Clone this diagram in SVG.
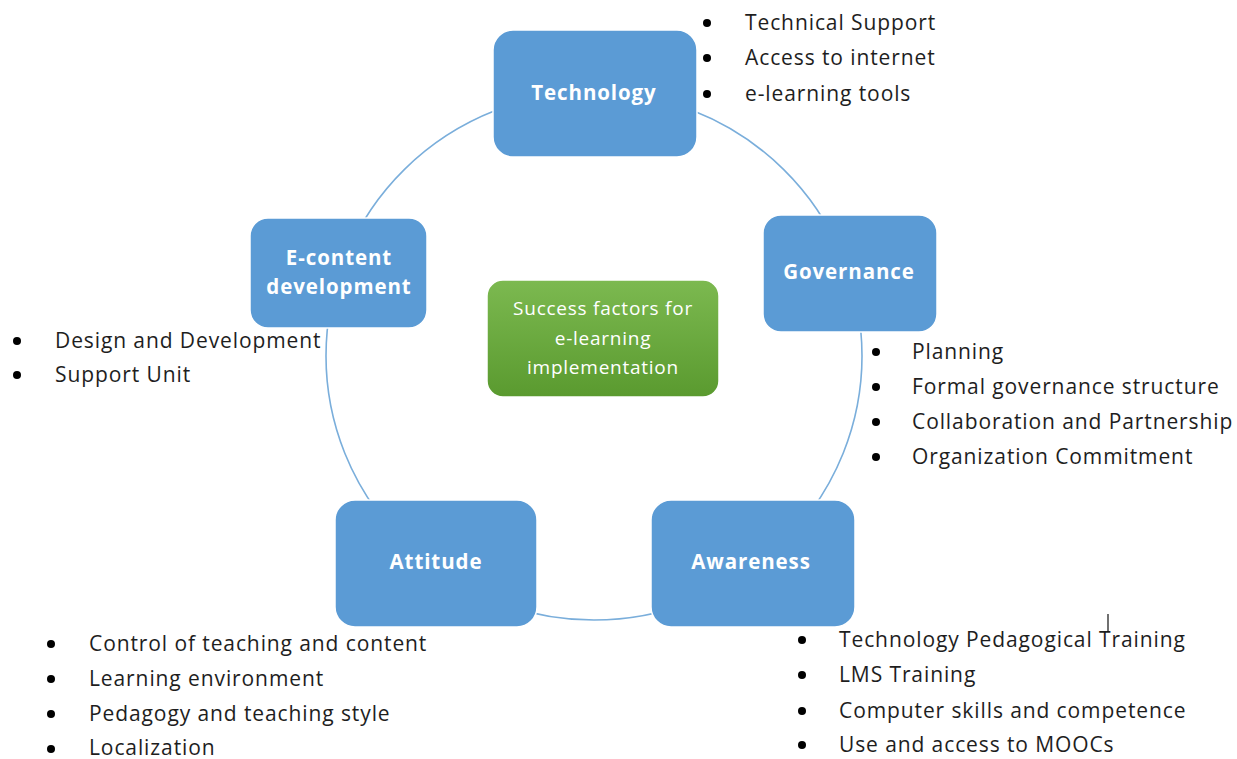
<svg xmlns="http://www.w3.org/2000/svg" width="1237" height="759" viewBox="0 0 1237 759">
  <defs>
    <linearGradient id="greenFill" x1="0" y1="0" x2="0" y2="1">
      <stop offset="0" stop-color="#7cb950"/>
      <stop offset="1" stop-color="#5a9a2f"/>
    </linearGradient>
  </defs>
  <style>
    .node { fill: #5b9bd5; stroke: #ffffff; stroke-width: 1.5; }
    .label { font-family: "Open Sans", "Liberation Sans", sans-serif; font-weight: bold; font-size: 20.5px; letter-spacing: 0.9px; fill: #ffffff; text-anchor: middle; }
    .center-label { font-family: "Open Sans", "Liberation Sans", sans-serif; font-size: 19px; letter-spacing: 0.75px; fill: #ffffff; text-anchor: middle; }
    .item { font-family: "Open Sans", "Liberation Sans", sans-serif; font-size: 21px; letter-spacing: 0.9px; fill: #1e1e1e; }
    .dot { fill: #000000; }
    .ring { fill: none; stroke: #7aaedb; stroke-width: 1.6; }
  </style>

  <rect width="1237" height="759" fill="#ffffff"/>

  <!-- cycle ring linking the five factors -->
  <g id="connectors">
    <ellipse class="ring" cx="594" cy="356" rx="268" ry="264"/>
  </g>

  <!-- central hub -->
  <g id="node-center">
    <rect x="487" y="280" width="232" height="117" rx="16" fill="url(#greenFill)" stroke="#ffffff" stroke-width="1.5"/>
    <text class="center-label" x="603" y="315">Success factors for</text>
    <text class="center-label" x="603" y="345">e-learning</text>
    <text class="center-label" x="603" y="374">implementation</text>
  </g>

  <g id="node-technology">
    <rect class="node" x="493" y="30" width="204" height="127" rx="20"/>
    <text class="label" x="594" y="100">Technology</text>
  </g>

  <g id="node-governance">
    <rect class="node" x="763" y="215" width="174" height="117" rx="18"/>
    <text class="label" x="849" y="279">Governance</text>
  </g>

  <g id="node-awareness">
    <rect class="node" x="651" y="500" width="204" height="127" rx="20"/>
    <text class="label" x="751" y="569">Awareness</text>
  </g>

  <g id="node-attitude">
    <rect class="node" x="335" y="500" width="202" height="127" rx="20"/>
    <text class="label" x="436" y="569">Attitude</text>
  </g>

  <g id="node-econtent">
    <rect class="node" x="250" y="218" width="177" height="110" rx="18"/>
    <text class="label" x="339" y="265">E-content</text>
    <text class="label" x="339" y="294">development</text>
  </g>

  <!-- bullet lists -->
  <g id="list-technology">
    <circle class="dot" cx="707" cy="23" r="4"/>
    <circle class="dot" cx="707" cy="58" r="4"/>
    <circle class="dot" cx="707" cy="94" r="4"/>
    <text class="item" x="745" y="30">Technical Support</text>
    <text class="item" x="745" y="65">Access to internet</text>
    <text class="item" x="745" y="101">e-learning tools</text>
  </g>

  <g id="list-governance">
    <circle class="dot" cx="876" cy="352" r="4"/>
    <circle class="dot" cx="876" cy="387" r="4"/>
    <circle class="dot" cx="876" cy="422" r="4"/>
    <circle class="dot" cx="876" cy="457" r="4"/>
    <text class="item" x="912" y="359">Planning</text>
    <text class="item" x="912" y="394">Formal governance structure</text>
    <text class="item" x="912" y="429">Collaboration and Partnership</text>
    <text class="item" x="912" y="464">Organization Commitment</text>
  </g>

  <g id="list-econtent">
    <circle class="dot" cx="17" cy="341" r="4"/>
    <circle class="dot" cx="17" cy="375" r="4"/>
    <text class="item" x="55" y="348">Design and Development</text>
    <text class="item" x="55" y="382">Support Unit</text>
  </g>

  <g id="list-attitude">
    <circle class="dot" cx="51" cy="644" r="4"/>
    <circle class="dot" cx="51" cy="679" r="4"/>
    <circle class="dot" cx="51" cy="714" r="4"/>
    <circle class="dot" cx="51" cy="749" r="4"/>
    <text class="item" x="89" y="651">Control of teaching and content</text>
    <text class="item" x="89" y="686">Learning environment</text>
    <text class="item" x="89" y="721">Pedagogy and teaching style</text>
    <text class="item" x="89" y="755">Localization</text>
  </g>

  <g id="list-awareness">
    <circle class="dot" cx="802" cy="640" r="4"/>
    <circle class="dot" cx="802" cy="675" r="4"/>
    <circle class="dot" cx="802" cy="711" r="4"/>
    <circle class="dot" cx="802" cy="745" r="4"/>
    <text class="item" x="839" y="647">Technology Pedagogical Training</text>
    <text class="item" x="839" y="682">LMS Training</text>
    <text class="item" x="839" y="718">Computer skills and competence</text>
    <text class="item" x="839" y="752">Use and access to MOOCs</text>
  </g>

  <!-- text cursor mark -->
  <line x1="1108" y1="614" x2="1108" y2="632" stroke="#111111" stroke-width="1.2"/>
</svg>
